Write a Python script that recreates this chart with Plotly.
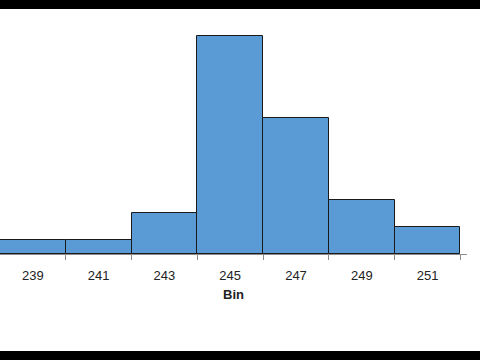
import plotly.graph_objects as go

bins = [239, 241, 243, 245, 247, 249, 251]
counts = [1, 1, 3, 16, 10, 4, 2]
edges = [240, 242, 244, 246, 248, 250, 252]
tick_labels = [str(b) for b in bins]

fig = go.Figure(go.Bar(
    x=bins, y=counts, width=[2] * len(bins),
    marker=dict(color="#5B9BD5", line=dict(color="#1a1a1a", width=1)),
))

fig.update_layout(
    width=480, height=360,
    margin=dict(l=0, r=13, t=16, b=106),
    paper_bgcolor="white", plot_bgcolor="white",
    showlegend=False, bargap=0,
    font=dict(family="Liberation Sans", size=13, color="#222222"),
    xaxis=dict(
        range=[238.0, 252.2], tickvals=bins, ticktext=tick_labels,
        ticks="", showgrid=False, zeroline=False,
        showline=True, linecolor="#8c8c8c", linewidth=1,
        tickfont=dict(size=13, color="#222222"),
        ticklabelstandoff=9,
        minor=dict(tickvals=edges, ticks="outside", ticklen=5, tickcolor="#8c8c8c", showgrid=False),
        title=dict(text="<b>Bin</b>", font=dict(size=13, color="#222222"), standoff=8),
    ),
    yaxis=dict(range=[0, 17.5], visible=False, showgrid=False, zeroline=False),
    shapes=[
        dict(type="rect", xref="paper", yref="paper", x0=0, x1=1.1, y0=1.0294, y1=1.08,
             fillcolor="black", line=dict(width=0), layer="above"),
        dict(type="rect", xref="paper", yref="paper", x0=0, x1=1.1, y0=-0.46, y1=-0.4076,
             fillcolor="black", line=dict(width=0), layer="above"),
    ],
)

fig.write_html("out.html")
